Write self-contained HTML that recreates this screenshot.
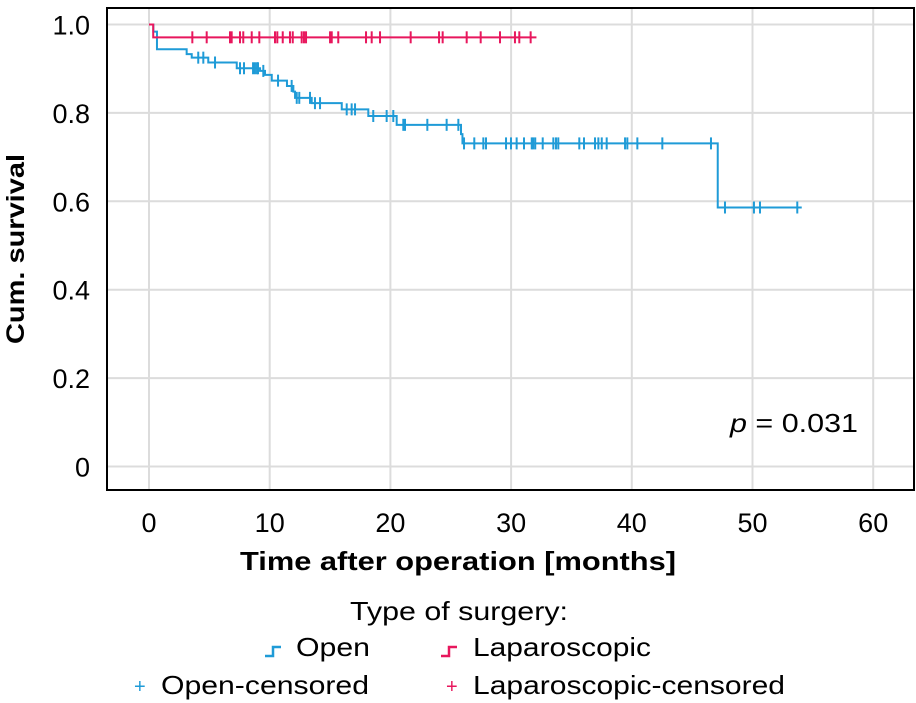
<!DOCTYPE html>
<html><head><meta charset="utf-8"><style>
html,body{margin:0;padding:0;background:#fff;}
svg{display:block;font-family:"Liberation Sans",sans-serif;}
</style></head><body>
<svg id="chart" width="916" height="703" viewBox="0 0 916 703" xmlns="http://www.w3.org/2000/svg">
<rect x="107" y="8" width="807" height="482" fill="#fff" stroke="#000" stroke-width="2"/>
<g id="grid"></g>
<g id="yticks"></g>
<g id="xticks"></g>
<g id="series"></g>
<text x="24" y="249" transform="rotate(-90 24 249)" text-anchor="middle" font-weight="bold" font-size="25" textLength="190" lengthAdjust="spacingAndGlyphs">Cum. survival</text>
<text x="458" y="570" text-anchor="middle" font-weight="bold" font-size="26" textLength="436" lengthAdjust="spacingAndGlyphs">Time after operation [months]</text>
<text x="730" y="432" font-size="26" textLength="128" lengthAdjust="spacingAndGlyphs"><tspan font-style="italic">p</tspan> = 0.031</text>
<g>
<text x="459" y="620" text-anchor="middle" font-size="26" textLength="218" lengthAdjust="spacingAndGlyphs">Type of surgery:</text>
<g>
<path d="M265 656 H273 V647 H281" fill="none" stroke="#1f9bd7" stroke-width="2.5"/>
<text x="296" y="656" font-size="26" textLength="74" lengthAdjust="spacingAndGlyphs">Open</text></g>
<g>
<path d="M441 656 H449 V647 H457" fill="none" stroke="#e8175d" stroke-width="2.5"/>
<text x="473" y="656" font-size="26" textLength="178" lengthAdjust="spacingAndGlyphs">Laparoscopic</text></g>
<g>
<text x="134" y="693" font-size="20" fill="#1f9bd7">+</text>
<text x="161" y="694" font-size="26" textLength="208" lengthAdjust="spacingAndGlyphs">Open-censored</text></g>
<g>
<text x="446" y="693" font-size="20" fill="#e8175d">+</text>
<text x="473" y="694" font-size="26" textLength="312" lengthAdjust="spacingAndGlyphs">Laparoscopic-censored</text></g>
</g>
</svg>
<script>
const xTicks=[0,10,20,30,40,50,60];
const yTicks=[0,0.2,0.4,0.6,0.8,1.0];
const yTickLabels=["0","0.2","0.4","0.6","0.8","1.0"];
const openTimes=[0,0.36,0.66,3.12,3.54,4.91,7.27,9.2,9.61,10.17,11.43,11.96,12.1,13.48,15.97,18.17,20.52,25.85,25.97,47.12];
const openSurv=[1,0.984,0.944,0.933,0.925,0.914,0.901,0.895,0.886,0.873,0.861,0.848,0.834,0.822,0.808,0.793,0.773,0.752,0.731,0.586];
const openEnd=54.08;
const openCensored=[4.08,4.5,5.47,7.54,7.87,8.62,8.78,8.95,9.03,9.47,10.69,11.82,12.24,12.45,13.34,13.75,14.17,16.38,16.79,17.07,18.58,19.69,20.24,21.07,21.21,23.06,24.66,25.63,26.1,26.95,27.7,27.92,29.58,29.99,30.46,31.07,31.71,31.84,32.0,32.62,33.5,33.72,33.91,35.65,36.04,36.95,37.23,37.51,37.92,39.44,39.63,40.46,42.53,46.56,47.72,50.12,50.62,53.71];
const lapTimes=[0,0.35];
const lapSurv=[1,0.971];
const lapEnd=32.1;
const lapCensored=[3.59,4.78,6.71,6.85,7.54,7.81,8.51,9.14,10.44,10.63,11.08,11.68,11.91,12.65,12.84,13.01,15.0,15.14,15.68,17.98,18.45,19.14,21.68,24.03,24.33,26.32,27.48,29.08,30.32,30.68,31.62];

const NS="http://www.w3.org/2000/svg";
const X=t=>149+t*12.07;
const Y=s=>466.5-s*442;
function mk(tag,attrs,parent){const e=document.createElementNS(NS,tag);for(const k in attrs)e.setAttribute(k,attrs[k]);parent.appendChild(e);return e;}
const grid=document.getElementById('grid'),yt=document.getElementById('yticks'),xt=document.getElementById('xticks'),ser=document.getElementById('series');
xTicks.forEach(t=>{
 const l=mk('line',{x1:X(t),x2:X(t),y1:9,y2:489,stroke:'#dcdcdc','stroke-width':2},grid);
 
 
 const tx=mk('text',{x:X(t),y:532,'text-anchor':'middle','font-size':27},xt);
 tx.textContent=t;
 
 
});
yTicks.forEach((v,i)=>{
 const l=mk('line',{x1:108,x2:913,y1:Y(v),y2:Y(v),stroke:'#dcdcdc','stroke-width':2},grid);
 
 
 const tx=mk('text',{x:90,y:Y(v)+10,'text-anchor':'end','font-size':27},yt);
 tx.textContent=yTickLabels[i];
 
 
});
function survAt(times,surv,t){let s=surv[0];for(let i=0;i<times.length;i++){if(times[i]<=t)s=surv[i];}return s;}
function drawSeries(times,surv,end,cens,color,name){
 let d='M'+X(times[0])+' '+Y(surv[0]);
 for(let i=1;i<times.length;i++){d+=' H'+X(times[i])+' V'+Y(surv[i]);}
 d+=' H'+X(end);
 const p=mk('path',{d:d,fill:'none',stroke:color,'stroke-width':2},ser);
 
 
 cens.forEach(t=>{
  const y=Y(survAt(times,surv,t));
  const c=mk('line',{x1:X(t),x2:X(t),y1:y-6,y2:y+6,stroke:color,'stroke-width':2},ser);
  
  
 });
}
drawSeries(openTimes,openSurv,openEnd,openCensored,'#1f9bd7','open');
drawSeries(lapTimes,lapSurv,lapEnd,lapCensored,'#e8175d','laparoscopic');
</script>
</body></html>
